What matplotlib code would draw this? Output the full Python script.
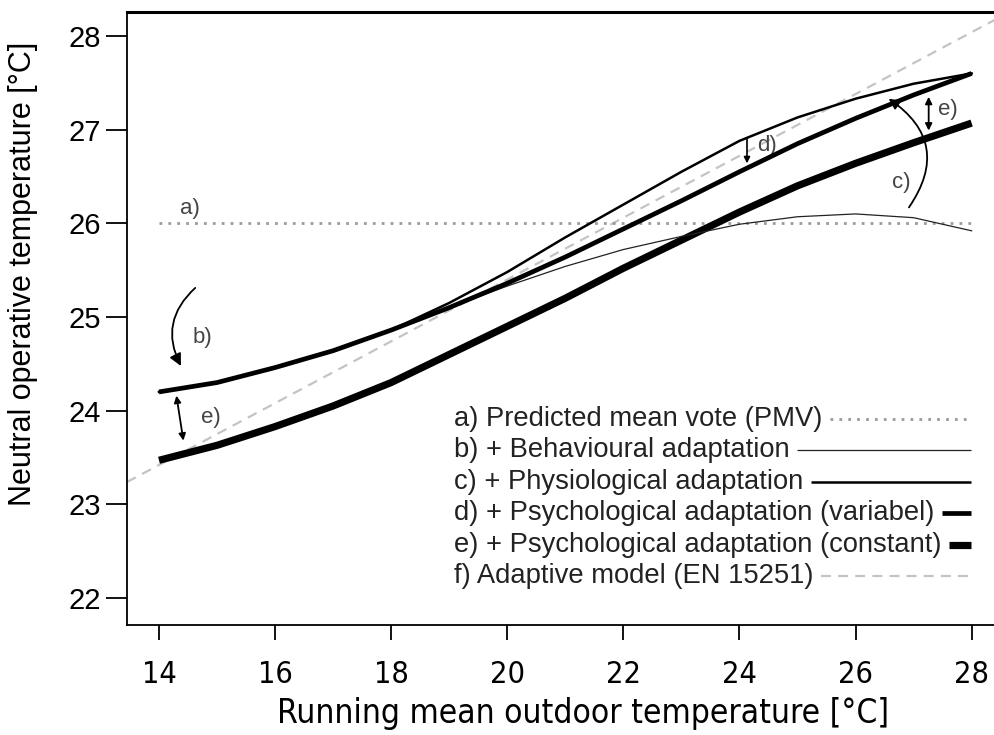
import matplotlib
matplotlib.use("Agg")
import matplotlib.pyplot as plt
from matplotlib.lines import Line2D

plt.rcParams['font.family'] = ['Liberation Sans', 'DejaVu Sans']

# running mean outdoor temperature [degC]
t_rm = [14, 15, 16, 17, 18, 19, 20, 21, 22, 23, 24, 25, 26, 27, 28]

# neutral operative temperature for each model [degC]
pmv_level = 26.0
behav = [24.2, 24.3, 24.46, 24.64, 24.86, 25.1, 25.33, 25.54, 25.72, 25.86,
         25.99, 26.07, 26.1, 26.06, 25.92]
physio = [24.2, 24.3, 24.46, 24.64, 24.86, 25.15, 25.48, 25.85, 26.2, 26.55,
          26.88, 27.13, 27.33, 27.49, 27.6]
psych_var = [24.2, 24.3, 24.46, 24.64, 24.86, 25.1, 25.36, 25.64, 25.94, 26.24,
             26.55, 26.85, 27.12, 27.37, 27.6]
psych_const = [23.47, 23.63, 23.83, 24.05, 24.3, 24.6, 24.9, 25.2, 25.52, 25.82,
               26.12, 26.4, 26.64, 26.86, 27.07]
# EN 15251 adaptive model: T = 0.33 * Trm + 18.8
en_slope = 0.33
en_icpt = 18.8

legend_labels = ["a) Predicted mean vote (PMV)",
                 "b) + Behavioural adaptation",
                 "c) + Physiological adaptation",
                 "d) + Psychological adaptation (variabel)",
                 "e) + Psychological adaptation (constant)",
                 "f) Adaptive model (EN 15251)"]

fig = plt.figure(figsize=(9.95, 7.35), dpi=100)
ax = fig.add_axes([0.1276, 0.1497, 0.874, 0.834])

# styles for a) .. f)
st_a = dict(color='#9a9a9a', lw=2.0, ls=(0, (1, 2.2)))
st_b = dict(color='#222222', lw=0.9)
st_c = dict(color='black', lw=1.8)
st_d = dict(color='black', lw=3.4)
st_e = dict(color='black', lw=5.2)
st_f = dict(color='#c4c4c4', lw=1.6, ls=(0, (4.5, 3.2)))

ax.axline((0, en_icpt), slope=en_slope, zorder=1, **st_f)
ax.plot([t_rm[0], t_rm[-1]], [pmv_level, pmv_level], zorder=1, **st_a)
ax.plot(t_rm, psych_const, zorder=3, solid_capstyle='butt', **st_e)
ax.plot(t_rm, behav, zorder=3, **st_b)
ax.plot(t_rm, physio, zorder=3, **st_c)
ax.plot(t_rm, psych_var, zorder=4, solid_capstyle='butt', **st_d)

ax.set_xlim(13.448, 28.43)
ax.set_ylim(21.712, 28.256)
ax.set_xticks(range(14, 29, 2))
ax.set_yticks(range(22, 29))

ax.spines['right'].set_visible(False)
ax.spines['top'].set_linewidth(2.2)
ax.spines['left'].set_linewidth(1.3)
ax.spines['bottom'].set_linewidth(1.3)
ax.tick_params(axis='y', direction='out', length=15, width=1.3, pad=4, labelsize=21)
ax.tick_params(axis='x', direction='out', length=11, width=1.3, pad=14, labelsize=22)
for lab in ax.get_xticklabels():
    lab.set_family('DejaVu Sans')
    lab.set_stretch('condensed')

ax.set_ylabel("Neutral operative temperature [°C]", fontsize=22)
ax.yaxis.set_label_coords(-0.1025, 0.573)
ax.set_xlabel("Running mean outdoor temperature [°C]", fontsize=24,
              family='DejaVu Sans', fontstretch='condensed')
ax.xaxis.set_label_coords(0.524, -0.117)

# letters and arrows inside the plot
fs = 16
ax.text(14.36, 26.16, "a)", fontsize=fs, color='#444444', ha='left', va='center')
ax.annotate("", xy=(14.4, 24.45), xytext=(14.66, 25.33),
            arrowprops=dict(arrowstyle='-|>', color='black', lw=1.3,
                            connectionstyle='arc3,rad=0.4', mutation_scale=18))
ax.text(14.58, 24.78, "b)", fontsize=fs, color='#444444', va='center')
ax.annotate("", xy=(14.42, 23.68), xytext=(14.3, 24.16),
            arrowprops=dict(arrowstyle='<|-|>', color='black', lw=1.3,
                            mutation_scale=10, shrinkA=0, shrinkB=0))
ax.text(14.72, 23.93, "e)", fontsize=fs, color='#444444', va='center')
ax.annotate("", xy=(24.13, 26.64), xytext=(24.13, 26.9),
            arrowprops=dict(arrowstyle='-|>', color='black', lw=1.2,
                            mutation_scale=9, shrinkA=0, shrinkB=0))
ax.text(24.3, 26.83, "d)", fontsize=fs, color='#444444', va='center')
ax.annotate("", xy=(26.57, 27.33), xytext=(26.92, 26.17),
            arrowprops=dict(arrowstyle='-|>', color='black', lw=1.3,
                            connectionstyle='arc3,rad=0.5', mutation_scale=16,
                            shrinkA=0, shrinkB=0))
ax.text(26.62, 26.44, "c)", fontsize=fs, color='#444444', va='center')
ax.annotate("", xy=(27.26, 26.99), xytext=(27.26, 27.35),
            arrowprops=dict(arrowstyle='<|-|>', color='black', lw=1.3,
                            mutation_scale=10, shrinkA=0, shrinkB=0))
ax.text(27.42, 27.21, "e)", fontsize=fs, color='#444444', va='center')

# legend drawn by hand: text left aligned, handle runs to common right edge
leg_x = 0.3756
leg_right = 0.971
leg_top = 0.336
leg_step = 0.0513
styles = [st_a, st_b, st_c, st_d, st_e, st_f]
texts = []
for i, lab in enumerate(legend_labels):
    texts.append(ax.text(leg_x, leg_top - i * leg_step, lab, transform=ax.transAxes,
                         fontsize=19.7, color='#222222', va='center', ha='left'))
fig.canvas.draw()
renderer = fig.canvas.get_renderer()
inv = ax.transAxes.inverted()
for i, t in enumerate(texts):
    bb = t.get_window_extent(renderer)
    x0 = inv.transform((bb.x1 + 8, 0))[0]
    y0 = leg_top - i * leg_step
    ax.add_line(Line2D([x0, leg_right], [y0, y0], transform=ax.transAxes,
                       solid_capstyle='butt', **styles[i]))

fig.savefig("out.png", dpi=100)
